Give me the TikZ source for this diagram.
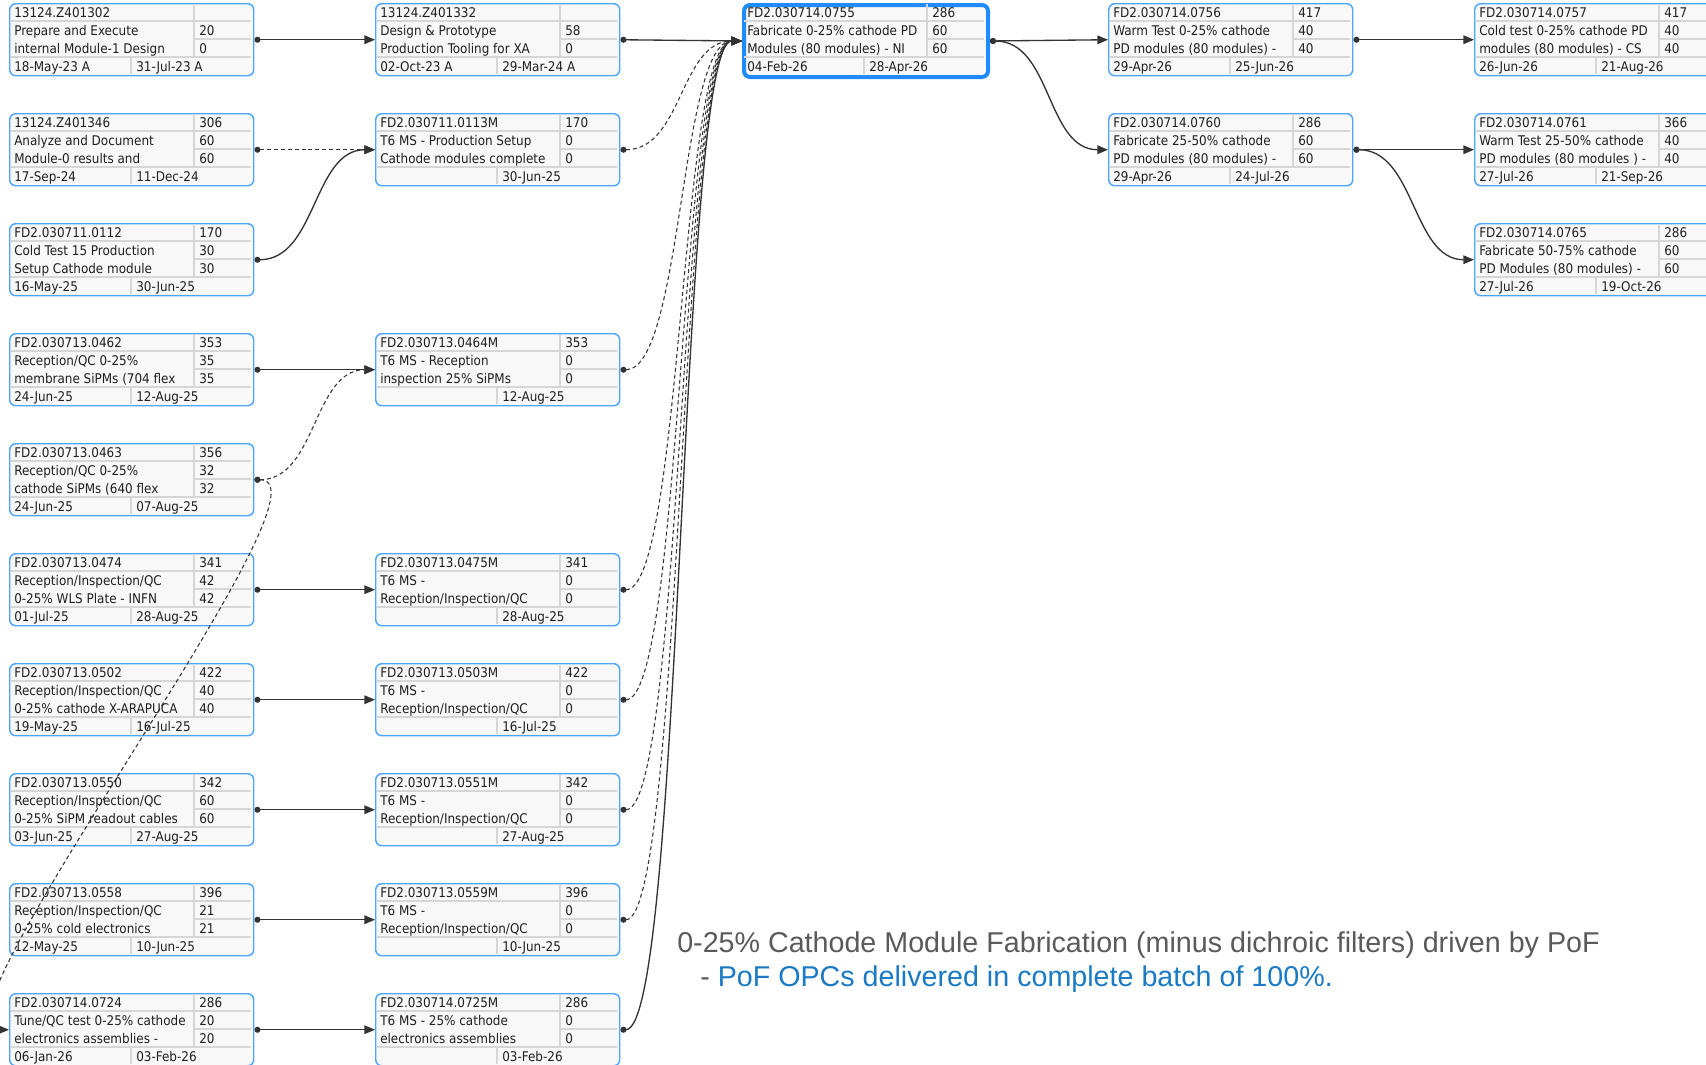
\documentclass[tikz,border=0pt]{standalone}
\usepackage{fontspec}
\setmainfont{DejaVu Sans Condensed}
\newfontfamily\notefont{Liberation Sans}
\usetikzlibrary{arrows.meta}
\definecolor{taskblue}{HTML}{4DA6FF}
\definecolor{focusblue}{HTML}{1E8CFF}
\definecolor{cellgrey}{HTML}{D6D6D6}
\definecolor{cellfill}{HTML}{F8F8F8}
\definecolor{linkgrey}{HTML}{333333}
\definecolor{notegrey}{HTML}{5A5A5A}
\definecolor{pofblue}{HTML}{1A7AC4}

% activity box: id / float, two text lines with durations, start / finish
\newcommand{\pair}[3]{\node[txt] at (#1,32.9) {#2}; \node[txt] at (#1,50.9) {#3};}
\newcommand{\task}[9][]{%
  \node[task,#1] (#2) at (#3) {};
  \begin{scope}[shift={(#2.north west)}]
    \draw[cell] (2,18) -- (242,18) (2,54) -- (242,54)
      (185,1) -- (185,54) (185,36) -- (242,36) (122,54) -- (122,71);
    \node[txt] at (5,14.9) {#4};
    \node[txt] at (190,14.9) {#5};
    \pair{5}#6
    \pair{190}#7
    \node[txt] at (5,68.9) {#8};
    \node[txt] at (127,68.9) {#9};
  \end{scope}}

\begin{document}
\begin{tikzpicture}[
  x=0.75pt,y=-0.75pt,
  >={Triangle[length=8pt,width=6.5pt]},
  task/.style={draw=taskblue,fill=cellfill,line width=1.1pt,rounded corners=4.5pt,
    anchor=north west,minimum width=183pt,minimum height=54pt,inner sep=0pt},
  focus/.style={draw=focusblue,line width=3pt},
  cell/.style={draw=cellgrey,line width=1.1pt},
  txt/.style={anchor=base west,inner sep=0pt,font=\fontsize{10}{11}\selectfont,text=black!88},
  link/.style={draw=linkgrey,line width=1pt,{Circle[length=4.5pt]}->},
  dep/.style={link,line width=0.8pt,dash pattern=on 3pt off 2.2pt},
  note/.style={anchor=base west,inner sep=0pt,font=\notefont\fontsize{21.5}{24}\selectfont,text=notegrey}
]
\useasboundingbox[fill=white] (0,0) rectangle (1706,1064);
\clip (0,0) rectangle (1706,1064);

% column 1
\task{t1302}{9,3}{13124.Z401302}{}{{Prepare and Execute}{internal Module-1 Design}}{{20}{0}}{18-May-23 A}{31-Jul-23 A}
\task{t1346}{9,113}{13124.Z401346}{306}{{Analyze and Document}{Module-0 results and}}{{60}{60}}{17-Sep-24}{11-Dec-24}
\task{t0112}{9,223}{FD2.030711.0112}{170}{{Cold Test 15 Production}{Setup Cathode module}}{{30}{30}}{16-May-25}{30-Jun-25}
\task{t0462}{9,333}{FD2.030713.0462}{353}{{Reception/QC 0-25\%}{membrane SiPMs (704 flex}}{{35}{35}}{24-Jun-25}{12-Aug-25}
\task{t0463}{9,443}{FD2.030713.0463}{356}{{Reception/QC 0-25\%}{cathode SiPMs (640 flex}}{{32}{32}}{24-Jun-25}{07-Aug-25}
\task{t0474}{9,553}{FD2.030713.0474}{341}{{Reception/Inspection/QC}{0-25\% WLS Plate - INFN}}{{42}{42}}{01-Jul-25}{28-Aug-25}
\task{t0502}{9,663}{FD2.030713.0502}{422}{{Reception/Inspection/QC}{0-25\% cathode X-ARAPUCA}}{{40}{40}}{19-May-25}{16-Jul-25}
\task{t0550}{9,773}{FD2.030713.0550}{342}{{Reception/Inspection/QC}{0-25\% SiPM readout cables}}{{60}{60}}{03-Jun-25}{27-Aug-25}
\task{t0558}{9,883}{FD2.030713.0558}{396}{{Reception/Inspection/QC}{0-25\% cold electronics}}{{21}{21}}{12-May-25}{10-Jun-25}
\task{t0724}{9,993}{FD2.030714.0724}{286}{{Tune/QC test 0-25\% cathode}{electronics assemblies -}}{{20}{20}}{06-Jan-26}{03-Feb-26}

% column 2
\task{t1332}{375,3}{13124.Z401332}{}{{Design \& Prototype}{Production Tooling for XA}}{{58}{0}}{02-Oct-23 A}{29-Mar-24 A}
\task{t0113}{375,113}{FD2.030711.0113M}{170}{{T6 MS - Production Setup}{Cathode modules complete}}{{0}{0}}{}{30-Jun-25}
\task{t0464}{375,333}{FD2.030713.0464M}{353}{{T6 MS - Reception}{inspection 25\% SiPMs}}{{0}{0}}{}{12-Aug-25}
\task{t0475}{375,553}{FD2.030713.0475M}{341}{{T6 MS -}{Reception/Inspection/QC}}{{0}{0}}{}{28-Aug-25}
\task{t0503}{375,663}{FD2.030713.0503M}{422}{{T6 MS -}{Reception/Inspection/QC}}{{0}{0}}{}{16-Jul-25}
\task{t0551}{375,773}{FD2.030713.0551M}{342}{{T6 MS -}{Reception/Inspection/QC}}{{0}{0}}{}{27-Aug-25}
\task{t0559}{375,883}{FD2.030713.0559M}{396}{{T6 MS -}{Reception/Inspection/QC}}{{0}{0}}{}{10-Jun-25}
\task{t0725}{375,993}{FD2.030714.0725M}{286}{{T6 MS - 25\% cathode}{electronics assemblies}}{{0}{0}}{}{03-Feb-26}

% columns 3-5
\task[focus]{t0755}{742,3}{FD2.030714.0755}{286}{{Fabricate 0-25\% cathode PD}{Modules (80 modules) - NI}}{{60}{60}}{04-Feb-26}{28-Apr-26}
\task{t0756}{1108,3}{FD2.030714.0756}{417}{{Warm Test 0-25\% cathode}{PD modules (80 modules) -}}{{40}{40}}{29-Apr-26}{25-Jun-26}
\task{t0760}{1108,113}{FD2.030714.0760}{286}{{Fabricate 25-50\% cathode}{PD modules (80 modules) -}}{{60}{60}}{29-Apr-26}{24-Jul-26}
\task{t0757}{1474,3}{FD2.030714.0757}{417}{{Cold test 0-25\% cathode PD}{modules (80 modules) - CS}}{{40}{40}}{26-Jun-26}{21-Aug-26}
\task{t0761}{1474,113}{FD2.030714.0761}{366}{{Warm Test 25-50\% cathode}{PD modules (80 modules ) -}}{{40}{40}}{27-Jul-26}{21-Sep-26}
\task{t0765}{1474,223}{FD2.030714.0765}{286}{{Fabricate 50-75\% cathode}{PD Modules (80 modules) -}}{{60}{60}}{27-Jul-26}{19-Oct-26}

% straight links
\draw[link] (t1302.east) -- (t1332.west);
\draw[link] (t1332.east) -- (t0755.west);
\draw[link] (t0755.east) -- (t0756.west);
\draw[link] (t0756.east) -- (t0757.west);
\draw[link] (t0760.east) -- (t0761.west);
\draw[link] (t0462.east) -- (t0464.west);
\draw[link] (t0474.east) -- (t0475.west);
\draw[link] (t0502.east) -- (t0503.west);
\draw[link] (t0550.east) -- (t0551.west);
\draw[link] (t0558.east) -- (t0559.west);
\draw[link] (t0724.east) -- (t0725.west);
\draw[dep] (t1346.east) -- (t0113.west);

% curved links
\draw[link] (t0112.east) .. controls +(62,0) and +(-62,0) .. (t0113.west);
\draw[link] (t0755.east) .. controls +(62,0) and +(-62,0) .. (t0760.west);
\draw[link] (t0760.east) .. controls +(62,0) and +(-62,0) .. (t0765.west);
\draw[dep] (t0463.east) .. controls +(62,0) and +(-62,0) .. (t0464.west);
\draw[dep] (t0463.east) .. controls +(90,0) and +(-90,0) .. (t0724.west);

% into 0755
\draw[dep] (t0113.east) .. controls +(62,0) and +(-62,0) .. (t0755.west);
\draw[dep] (t0464.east) .. controls +(62,0) and +(-62,0) .. (t0755.west);
\draw[dep] (t0475.east) .. controls +(62,0) and +(-62,0) .. (t0755.west);
\draw[dep] (t0503.east) .. controls +(62,0) and +(-62,0) .. (t0755.west);
\draw[dep] (t0551.east) .. controls +(62,0) and +(-62,0) .. (t0755.west);
\draw[dep] (t0559.east) .. controls +(62,0) and +(-62,0) .. (t0755.west);
\draw[link] (t0725.east) .. controls +(62,0) and +(-62,0) .. (t0755.west);

% note
\node[note] (note) at (677,952) {0-25\% Cathode Module Fabrication (minus dichroic filters) driven by PoF};
\node[note] (sub) at (700,986) {- \textcolor{pofblue}{PoF OPCs delivered in complete batch of 100\%.}};
\end{tikzpicture}
\end{document}
